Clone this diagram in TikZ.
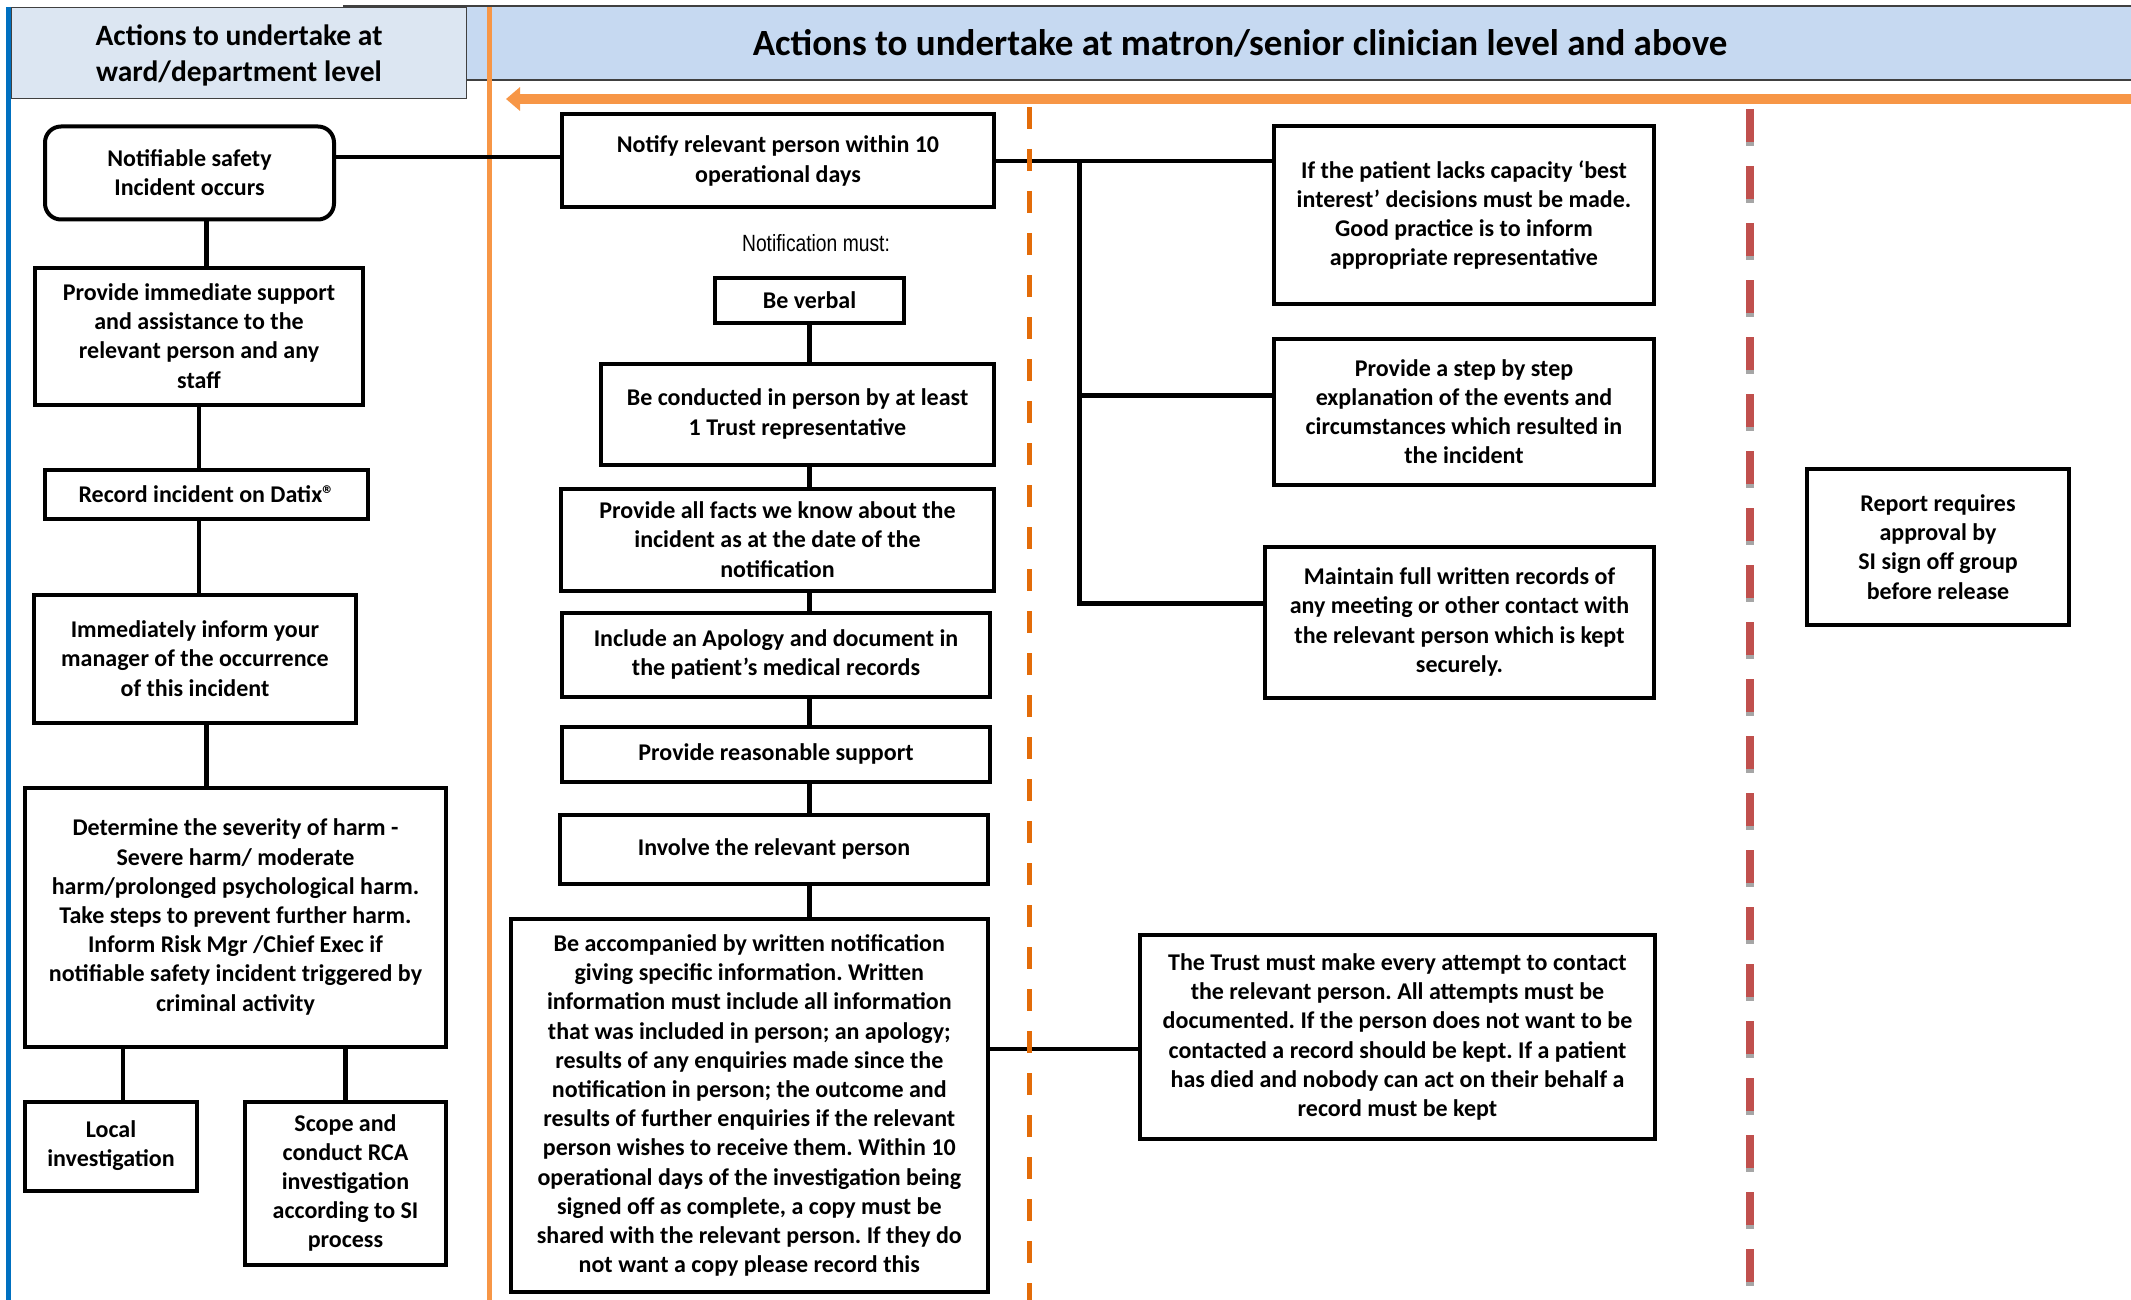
\documentclass[tikz,border=0pt]{standalone}
\usepackage{fontspec}
\setmainfont{Carlito}
\newfontfamily\narrowsans[FakeStretch=0.82]{Liberation Sans}
\usepackage{xcolor}
\usepackage{tikz}
\usetikzlibrary{arrows.meta, positioning}

\definecolor{hdrleft}{HTML}{DCE6F2}
\definecolor{hdrright}{HTML}{C6D9F1}
\definecolor{laneblue}{HTML}{0070C0}
\definecolor{laneorange}{HTML}{F79646}
\definecolor{dashorange}{HTML}{E36C09}
\definecolor{dashred}{HTML}{C0504D}
\frenchspacing

\begin{document}
\begin{tikzpicture}[
    x=1pt, y=1pt,
    box/.style={rectangle, draw=black, line width=4pt, fill=white, inner sep=0pt, align=center, font=\fontsize{24}{29.2}\selectfont\bfseries},
    roundbox/.style={box, rounded corners=16pt},
    header/.style={rectangle, draw=black!75, line width=1.5pt, inner sep=0pt, align=center},
    link/.style={line width=4.5pt}
]
\useasboundingbox (0,0) rectangle (2131,-1300);

\node[header, fill=hdrright, minimum width=1792pt, minimum height=74pt, font=\fontsize{37}{42}\selectfont\bfseries] (mainhdr) at (1240,-43) {Actions to undertake at matron/senior clinician level and above};
\node[header, fill=hdrleft, minimum width=455pt, minimum height=91pt, text depth=0pt, font=\fontsize{29.5}{36}\selectfont\bfseries] (wardhdr) at (239,-53) {Actions to undertake at\\ward/department level};

\draw[laneblue, line width=5pt] (8.5,-7) -- (8.5,-1300);
\draw[laneorange, line width=5pt] (489,-7) -- (489,-1300);
\draw[laneorange, line width=10pt, -{Triangle[width=23pt, length=14pt]}] (2131,-99) -- (506,-99);

\node[roundbox, minimum width=289pt, minimum height=93pt] (incident) at (189.5,-173) {Notifiable safety\\Incident occurs};
\node[box, minimum width=328pt, minimum height=137pt, below=44pt of incident, xshift=9.5pt] (support) {Provide immediate support\\and assistance to the\\relevant person and any\\staff};
\node[box, minimum width=323pt, minimum height=49pt, below=61pt of support, xshift=7.5pt] (datix) {Record incident on Datix®};
\node[box, minimum width=322pt, minimum height=128pt, below=72pt of datix, xshift=-11.5pt] (inform) {Immediately inform your\\manager of the occurrence\\of this incident};
\node[box, minimum width=421pt, minimum height=259pt, below=61pt of inform, xshift=40.5pt] (severity) {Determine the severity of harm -\\Severe harm/ moderate\\harm/prolonged psychological harm.\\Take steps to prevent further harm.\\Inform Risk Mgr /Chief Exec if\\notifiable safety incident triggered by\\criminal activity};
\node[box, minimum width=172pt, minimum height=89pt, below=51pt of severity.south west, anchor=north west] (localinv) {Local\\investigation};
\node[box, minimum width=201pt, minimum height=163pt, below=51pt of severity.south east, anchor=north east] (rca) {Scope and\\conduct RCA\\investigation\\according to SI\\process};

\node[box, minimum width=432pt, minimum height=93pt] (notify) at (778,-161) {Notify relevant person within 10\\operational days};
\node[font=\narrowsans\fontsize{23.5}{28}\selectfont] (mustnote) at (816,-243.5) {Notification must:};
\node[box, minimum width=189pt, minimum height=45pt, below=66pt of notify, xshift=31.5pt] (verbal) {Be verbal};
\node[box, minimum width=393pt, minimum height=101pt, below=37pt of verbal, xshift=-12pt] (inperson) {Be conducted in person by at least\\1 Trust representative};
\node[box, minimum width=433pt, minimum height=102pt, below=20pt of inperson, xshift=-20pt] (facts) {Provide all facts we know about the\\incident as at the date of the\\notification};
\node[box, minimum width=428pt, minimum height=84pt, below=18pt of facts, xshift=-1.5pt] (apology) {Include an Apology and document in\\the patient’s medical records};
\node[box, minimum width=428pt, minimum height=55pt, below=26pt of apology] (reasonable) {Provide reasonable support};
\node[box, minimum width=428pt, minimum height=69pt, below=29pt of reasonable, xshift=-2pt] (involve) {Involve the relevant person};
\node[box, minimum width=477pt, minimum height=373pt, below=31.5pt of involve, xshift=-24.7pt] (written) {Be accompanied by written notification\\giving specific information. Written\\information must include all information\\that was included in person; an apology;\\results of any enquiries made since the\\notification in person; the outcome and\\results of further enquiries if the relevant\\person wishes to receive them. Within 10\\operational days of the investigation being\\signed off as complete, a copy must be\\shared with the relevant person. If they do\\not want a copy please record this};

\node[box, minimum width=380pt, minimum height=177pt] (capacity) at (1464,-215) {If the patient lacks capacity ‘best\\interest’ decisions must be made.\\Good practice is to inform\\appropriate representative};
\node[box, minimum width=380pt, minimum height=146pt, below=31pt of capacity] (stepbystep) {Provide a step by step\\explanation of the events and\\circumstances which resulted in\\the incident};
\node[box, minimum width=389pt, minimum height=151pt, below=58pt of stepbystep, xshift=-4.5pt] (records) {Maintain full written records of\\any meeting or other contact with\\the relevant person which is kept\\securely.};
\node[box, minimum width=515pt, minimum height=204pt] (trust) at (1397.5,-1037) {The Trust must make every attempt to contact\\the relevant person. All attempts must be\\documented. If the person does not want to be\\contacted a record should be kept. If a patient\\has died and nobody can act on their behalf a\\record must be kept};
\node[box, minimum width=262pt, minimum height=156pt] (approval) at (1938,-547) {Report requires\\approval by\\SI sign off group\\before release};

\draw[link] (incident.south -| datix.north) -- (support.north -| datix.north);
\draw[link] (support.south) -- (support.south |- datix.north);
\draw[link] (datix.south -| support.south) -- (inform.north -| support.south);
\draw[link] (inform.south -| datix.south) -- (severity.north -| datix.south);
\draw[link] ([xshift=12pt]localinv.north) -- ([xshift=12pt]localinv.north |- severity.south);
\draw[link] (rca.north) -- (rca.north |- severity.south);
\draw[link] ([yshift=4pt]notify.west) -- ([yshift=4pt]notify.west -| incident.east);

\draw[link] (verbal.south) -- (verbal.south |- inperson.north);
\draw[link] (inperson.south -| verbal.south) -- (facts.north -| verbal.south);
\draw[link] (facts.south -| verbal.south) -- (apology.north -| verbal.south);
\draw[link] (apology.south -| verbal.south) -- (reasonable.north -| verbal.south);
\draw[link] (reasonable.south -| verbal.south) -- (involve.north -| verbal.south);
\draw[link] (involve.south -| verbal.south) -- (written.north -| verbal.south);

\draw[link] (notify.east) -- (notify.east -| capacity.west);
\coordinate (trunk) at (1079.5,-161);
\draw[link] (trunk) |- ([yshift=16pt]stepbystep.west);
\draw[link] (trunk) |- ([yshift=18.5pt]records.west);
\draw[link] ([yshift=-12pt]trust.west) -- ([yshift=-12pt]trust.west -| written.east);

\draw[dashorange, line width=5pt, dash pattern=on 22pt off 20pt] (1029,-107) -- (1029,-1300);
\draw[black!35, line width=8pt, dash pattern=on 33pt off 24pt] (1750,-113) -- (1750,-1300);
\draw[dashred, line width=8pt, dash pattern=on 33pt off 24pt] (1750,-109) -- (1750,-1300);
\end{tikzpicture}
\end{document}
